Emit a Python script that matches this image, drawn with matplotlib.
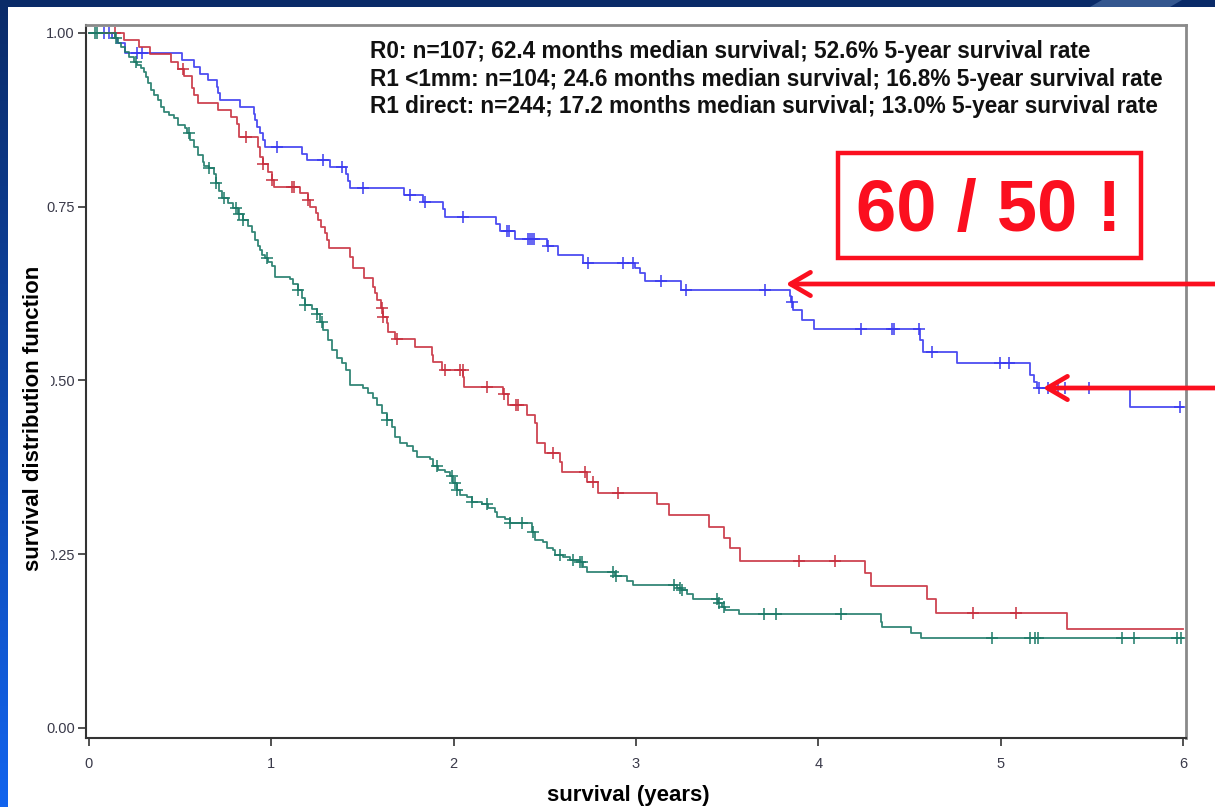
import numpy as np
import matplotlib
matplotlib.use("Agg")
import matplotlib.pyplot as plt
from matplotlib.patches import Rectangle, FancyArrowPatch, Polygon

plt.rcParams['font.family'] = ['Liberation Sans', 'DejaVu Sans']

# Kaplan-Meier step data (time in years, survival after each drop)
r0_times = [0.126, 0.154, 0.198, 0.510, 0.576, 0.609, 0.653, 0.702, 0.708, 0.719,
            0.828, 0.905, 0.911, 0.922, 0.938, 0.954, 0.965, 1.168, 1.196, 1.322,
            1.410, 1.421, 1.432, 1.728, 1.832, 1.942, 1.953, 2.233, 2.254, 2.337,
            2.512, 2.573, 2.710, 2.995, 3.022, 3.050, 3.247, 3.845, 3.851, 3.862,
            3.911, 3.977, 4.558, 4.575, 4.761, 5.162, 5.184, 5.200, 5.710]
r0_surv = [0.993, 0.986, 0.971, 0.961, 0.951, 0.941, 0.932, 0.922, 0.914, 0.904,
           0.894, 0.883, 0.875, 0.865, 0.856, 0.846, 0.836, 0.826, 0.817, 0.807,
           0.797, 0.787, 0.777, 0.767, 0.757, 0.747, 0.735, 0.725, 0.715, 0.704,
           0.694, 0.681, 0.669, 0.662, 0.655, 0.643, 0.630, 0.622, 0.613, 0.601,
           0.587, 0.574, 0.558, 0.541, 0.525, 0.508, 0.498, 0.489, 0.462]
r0_censor = [0.082, 0.110, 0.263, 0.291, 1.031, 1.284, 1.388, 1.503, 1.761, 1.843,
             2.052, 2.293, 2.304, 2.408, 2.419, 2.430, 2.441, 2.52, 2.737, 2.929,
             2.984, 3.138, 3.275, 3.708, 3.856, 4.235, 4.405, 4.416, 4.55, 4.624,
             4.997, 5.047, 5.21, 5.261, 5.315, 5.354, 5.486, 5.985]

r1mm_times = [0.192, 0.274, 0.334, 0.450, 0.488, 0.521, 0.565, 0.576, 0.598, 0.708,
              0.779, 0.812, 0.823, 0.927, 0.938, 0.954, 0.982, 1.004, 1.015, 1.157,
              1.201, 1.212, 1.245, 1.256, 1.273, 1.295, 1.306, 1.317, 1.432, 1.448,
              1.509, 1.558, 1.569, 1.580, 1.602, 1.613, 1.635, 1.640, 1.679, 1.788,
              1.882, 1.887, 1.936, 2.052, 2.057, 2.271, 2.298, 2.403, 2.447, 2.458,
              2.501, 2.584, 2.595, 2.732, 2.792, 3.116, 3.182, 3.401, 3.483, 3.516,
              3.571, 4.257, 4.290, 4.597, 4.646, 5.365]
r1mm_surv = [0.990, 0.980, 0.970, 0.958, 0.948, 0.938, 0.921, 0.911, 0.899, 0.889,
             0.879, 0.869, 0.850, 0.836, 0.822, 0.812, 0.800, 0.788, 0.778, 0.770,
             0.760, 0.750, 0.741, 0.731, 0.721, 0.712, 0.702, 0.691, 0.678, 0.662,
             0.647, 0.635, 0.626, 0.616, 0.604, 0.591, 0.583, 0.570, 0.560, 0.548,
             0.537, 0.527, 0.515, 0.505, 0.491, 0.481, 0.465, 0.450, 0.439, 0.410,
             0.396, 0.383, 0.368, 0.354, 0.338, 0.322, 0.306, 0.289, 0.273, 0.259,
             0.240, 0.223, 0.204, 0.186, 0.165, 0.142]
r1mm_censor = [0.143, 0.516, 0.861, 0.954, 1.004, 1.114, 1.125, 1.201, 1.607, 1.613,
               1.690, 1.953, 2.035, 2.05, 2.184, 2.276, 2.342, 2.353, 2.545, 2.721,
               2.765, 2.902, 3.895, 4.092, 4.849, 5.085]

r1d_times = [0.143, 0.159, 0.176, 0.197, 0.219, 0.247, 0.263, 0.285, 0.302, 0.313,
             0.324, 0.340, 0.357, 0.378, 0.395, 0.411, 0.439, 0.466, 0.488, 0.527,
             0.538, 0.554, 0.576, 0.598, 0.625, 0.631, 0.658, 0.686, 0.697, 0.713,
             0.730, 0.762, 0.790, 0.817, 0.845, 0.872, 0.894, 0.911, 0.927, 0.938,
             0.949, 0.965, 0.982, 1.004, 1.020, 1.103, 1.119, 1.146, 1.168, 1.185,
             1.223, 1.251, 1.267, 1.284, 1.311, 1.333, 1.360, 1.388, 1.410, 1.432,
             1.503, 1.530, 1.558, 1.580, 1.607, 1.635, 1.662, 1.679, 1.706, 1.744,
             1.777, 1.799, 1.871, 1.887, 1.914, 1.953, 1.980, 1.997, 2.019, 2.035,
             2.074, 2.101, 2.156, 2.189, 2.227, 2.238, 2.282, 2.309, 2.430, 2.447,
             2.490, 2.512, 2.545, 2.556, 2.600, 2.639, 2.693, 2.710, 2.732, 2.885,
             2.951, 2.984, 3.225, 3.253, 3.280, 3.313, 3.450, 3.472, 3.489, 3.566,
             4.345, 4.350, 4.509, 4.564]
r1d_surv = [0.993, 0.986, 0.980, 0.973, 0.965, 0.958, 0.954, 0.950, 0.944, 0.937,
            0.928, 0.918, 0.911, 0.904, 0.894, 0.886, 0.882, 0.878, 0.868, 0.863,
            0.856, 0.846, 0.836, 0.824, 0.814, 0.809, 0.806, 0.797, 0.784, 0.773,
            0.763, 0.755, 0.748, 0.740, 0.731, 0.722, 0.714, 0.702, 0.694, 0.688,
            0.681, 0.676, 0.671, 0.665, 0.649, 0.646, 0.639, 0.630, 0.619, 0.609,
            0.603, 0.596, 0.584, 0.573, 0.558, 0.544, 0.532, 0.525, 0.515, 0.494,
            0.489, 0.482, 0.475, 0.465, 0.453, 0.443, 0.433, 0.419, 0.410, 0.406,
            0.399, 0.390, 0.387, 0.377, 0.371, 0.368, 0.363, 0.353, 0.342, 0.335,
            0.332, 0.325, 0.322, 0.317, 0.311, 0.304, 0.301, 0.295, 0.282, 0.271,
            0.268, 0.259, 0.256, 0.249, 0.246, 0.242, 0.239, 0.232, 0.224, 0.219,
            0.212, 0.206, 0.201, 0.199, 0.193, 0.186, 0.180, 0.174, 0.170, 0.164,
            0.153, 0.145, 0.137, 0.129]
r1d_censor = [0.032, 0.045, 0.148, 0.258, 0.549, 0.658, 0.697, 0.741, 0.806, 0.823,
              0.845, 0.976, 1.146, 1.185, 1.251, 1.278, 1.635, 1.909, 1.991, 2.008,
              2.019, 2.101, 2.183, 2.310, 2.375, 2.436, 2.584, 2.655, 2.693, 2.704,
              2.874, 2.891, 3.209, 3.242, 3.253, 3.445, 3.456, 3.484, 3.703, 3.769,
              4.125, 4.953, 5.162, 5.189, 5.206, 5.666, 5.732, 5.968, 5.990]

groups = ['R0', 'R1 <1mm', 'R1 direct']
colors = ['#3a3af0', '#c8303f', '#1d7a68']
summary = ['R0: n=107; 62.4 months median survival; 52.6% 5-year survival rate',
           'R1 <1mm: n=104; 24.6 months median survival; 16.8% 5-year survival rate',
           'R1 direct: n=244; 17.2 months median survival; 13.0% 5-year survival rate']
x_ticks = [0, 1, 2, 3, 4, 5, 6]
y_ticks = [0.0, 0.25, 0.5, 0.75, 1.0]
end_time = 6.0

W, H = 1215, 807
fig = plt.figure(figsize=(W / 100, H / 100), dpi=100)

# slide background: blue gradient frame, white page
bg = fig.add_axes([0, 0, 1, 1], zorder=-10)
grad = np.linspace(0, 1, 256).reshape(-1, 1)
cmap = matplotlib.colors.LinearSegmentedColormap.from_list('slide', ['#0a2b68', '#1264ee'])
bg.imshow(grad, aspect='auto', cmap=cmap, extent=[0, 1, 0, 1], origin='upper')
bg.add_patch(Polygon([(1090 / W, 1 - 7 / H), (1102 / W, 1), (1182 / W, 1), (1170 / W, 1 - 7 / H)],
                     closed=True, fc='#34578f', ec='none'))
bg.add_patch(Rectangle((8 / W, 0), 1, 1 - 7 / H, fc='white', ec='none'))
bg.set_xlim(0, 1)
bg.set_ylim(0, 1)
bg.axis('off')

ax = fig.add_axes([86 / W, 69 / H, 1100 / W, 713 / H])
ax.set_facecolor('none')

curves = [(r0_times, r0_surv, r0_censor),
          (r1mm_times, r1mm_surv, r1mm_censor),
          (r1d_times, r1d_surv, r1d_censor)]
for (t, s, c), col in zip(curves, colors):
    xs = np.r_[0, t, end_time]
    ys = np.r_[1.0, s, s[-1]]
    ax.step(xs, ys, where='post', color=col, lw=1.3, alpha=0.9)
    idx = np.searchsorted(t, c, side='right')
    cy = np.r_[1.0, s][idx]
    ax.plot(c, cy, ls='none', marker='+', ms=8, mew=1.1, color=col)

ax.set_xlim(-0.016, 6.016)
ax.set_ylim(-0.0144, 1.0115)
ax.set_xticks(x_ticks)
ax.set_xticklabels([str(v) for v in x_ticks])
ax.set_yticks(y_ticks)
ax.set_yticklabels(['%.2f' % v for v in y_ticks])
ax.tick_params(direction='out', length=6, width=1.2, color='#333333',
               labelsize=10.5, labelcolor='#3a3a4a')
ax.tick_params(axis='x', pad=8)
ax.tick_params(axis='y', pad=2)
for side in ['left', 'bottom']:
    ax.spines[side].set_color('#333333')
    ax.spines[side].set_linewidth(1.5)
for side in ['top', 'right']:
    ax.spines[side].set_color('#8a8a8a')
    ax.spines[side].set_linewidth(2)

for i, line in enumerate(summary):
    ax.text(1.541, 0.973 - i * 0.0396, line, fontsize=16.3, fontweight='bold',
            color='#111111', va='center', ha='left')

fig.text(628 / W, 1 - 795 / H, 'survival (years)', fontsize=16, fontweight='bold',
         ha='center', va='center')
# the label box hides the leading "0" of the middle y tick labels, as in the slide
fig.text(34 / W, 1 - 418 / H, 'survival distribution function', fontsize=16,
         fontweight='bold', rotation=90, ha='center', va='center',
         bbox=dict(fc='white', ec='none', pad=4.5))

# red call-out box and arrows
red = '#fb0f1f'
fig.add_artist(Rectangle((838 / W, 1 - 258 / H), 303 / W, 105 / H,
                         transform=fig.transFigure, fill=False, ec=red, lw=3.2))
fig.text(989 / W, 1 - 212 / H, '60 / 50 !', fontsize=52, fontweight='bold',
         color=red, ha='center', va='center')
for tip_x, tip_y in [(783, 284), (1040, 388)]:
    fig.add_artist(FancyArrowPatch((1.01, 1 - tip_y / H), (tip_x / W, 1 - tip_y / H),
                                   transform=fig.transFigure,
                                   arrowstyle='->,head_length=1.2,head_width=0.7',
                                   mutation_scale=12, color=red, lw=3.4))

fig.savefig('out.png', dpi=100)
